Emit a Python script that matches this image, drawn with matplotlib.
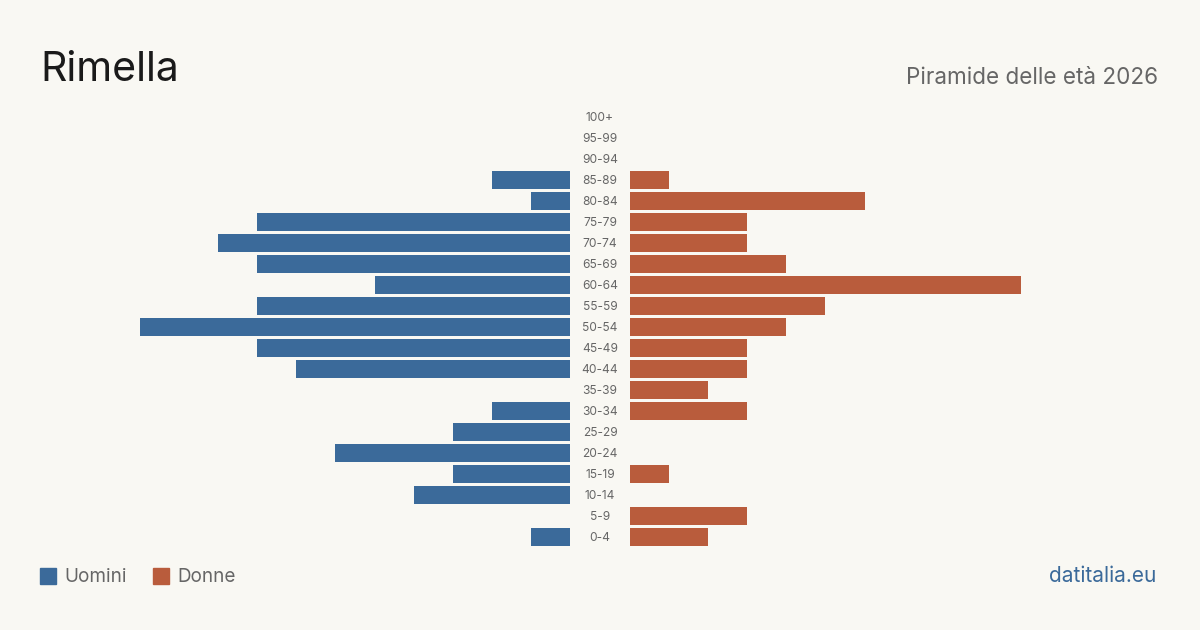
import matplotlib
matplotlib.use("Agg")
import matplotlib.pyplot as plt
from matplotlib.patches import Rectangle

plt.rcParams['font.family'] = ['Inter', 'DejaVu Sans']

age_groups = ["0-4", "5-9", "10-14", "15-19", "20-24", "25-29", "30-34", "35-39",
              "40-44", "45-49", "50-54", "55-59", "60-64", "65-69", "70-74",
              "75-79", "80-84", "85-89", "90-94", "95-99", "100+"]
men = [1, 0, 4, 3, 6, 3, 2, 0, 7, 8, 11, 8, 5, 8, 9, 8, 1, 2, 0, 0, 0]
women = [2, 3, 0, 1, 0, 0, 3, 2, 3, 3, 4, 5, 10, 4, 3, 3, 6, 1, 0, 0, 0]

title = "Rimella"
subtitle = "Piramide delle età 2026"
legend_labels = ["Uomini", "Donne"]
source = "datitalia.eu"

BG = "#f9f8f3"
BLUE = "#3b6a9a"
ORANGE = "#b95c3c"
GRAY = "#666666"

W, H = 1200, 630
fig = plt.figure(figsize=(12, 6.3), dpi=100, facecolor=BG)

def px_axes(x0, x1, ytop, ybot):
    return fig.add_axes([x0 / W, (H - ybot) / H, (x1 - x0) / W, (ybot - ytop) / H])

ymin_px, ymax_px = 106.5, 547.5
xmax = max(max(men), max(women))
ys = list(range(len(age_groups)))

axL = px_axes(140, 570, ymin_px, ymax_px)
axR = px_axes(630, 1060, ymin_px, ymax_px)
axM = px_axes(570, 630, ymin_px, ymax_px)

axL.barh(ys, men, height=0.81, color=BLUE)
axL.set_xlim(xmax, 0)
axR.barh(ys, women, height=0.81, color=ORANGE)
axR.set_xlim(0, xmax)
axM.set_xlim(0, 1)
for i, lab in enumerate(age_groups):
    axM.text(0.5, i - 0.05, lab, ha='center', va='center', fontsize=8.6, color=GRAY)

for ax in (axL, axR, axM):
    ax.set_ylim(-0.5, len(age_groups) - 0.5)
    ax.axis('off')
    ax.set_facecolor('none')

fig.text(40 / W, 1 - 81 / H, title, fontsize=29.5, color="#1a1a1a", ha='left', va='baseline')
fig.text(1158 / W, 1 - 84 / H, subtitle, fontsize=16.2, color=GRAY, ha='right', va='baseline')

# legend
for x0, col, lab in [(40, BLUE, legend_labels[0]), (153, ORANGE, legend_labels[1])]:
    fig.patches.append(Rectangle((x0 / W, 1 - 584 / H), 16 / W, 16 / H,
                                 transform=fig.transFigure, color=col))
    fig.text((x0 + 24) / W, 1 - 582 / H, lab, fontsize=13.6, color=GRAY, ha='left', va='baseline')

fig.text(1156 / W, 1 - 582 / H, source, fontsize=15, color=BLUE, ha='right', va='baseline')

fig.savefig("out.png", dpi=100, facecolor=BG)
